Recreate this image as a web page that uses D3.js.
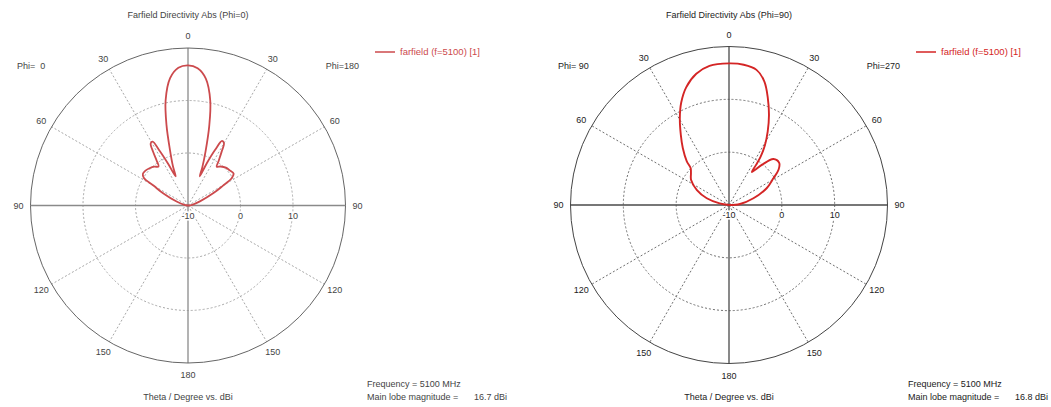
<!DOCTYPE html>
<html>
<head>
<meta charset="utf-8">
<script src="https://cdn.jsdelivr.net/npm/d3@7"></script>
<style>
  body { margin: 0; background: #fff; }
  svg { display: block; font-family: "Liberation Sans", Arial, sans-serif; }
  text { white-space: pre; }
</style>
</head>
<body>
<svg id="chart" width="1051" height="407"></svg>
<script>
// tick labels
const angleTicks = [0, 30, 60, 90, 120, 150, 180];
const spokeAngles = [30, 60, 120, 150];
const dbTicks = [-10, 0, 10];
const dbRings = [0, 10];

// Phi=0 cut (left half) and Phi=180 cut (right half), theta in degrees, gain in dBi
const phi0Theta = [0, 4, 8, 12, 15, 18, 21, 23, 25.5, 27.5, 29, 31, 33, 35, 37, 41, 46, 51, 55, 58, 60, 64, 71, 80, 90];
const phi0Gain  = [16.7, 16.3, 14.5, 10.5, 5.8, 1.1, -2, -4, -1.2, 1.8, 3.9, 3.8, 2.2, 0.4, -0.7, -0.2, 0.2, 0.5, 0.5, -0.1, -2.4, -4.8, -7.7, -9.3, -10.5];
const phi180Theta = [0, 4, 8, 12, 15, 18, 20.5, 22, 24, 26, 27.8, 30, 32, 34.5, 36.5, 40, 45, 50, 55, 58, 60.5, 64, 71, 80, 90];
const phi180Gain  = [16.7, 16.2, 14.4, 10.4, 5.6, 0.8, -2.2, -4, -1.2, 1.8, 3.9, 3.7, 2.1, 0.3, -0.8, -0.3, 0.2, 0.4, 0.6, -0.2, -2.4, -4.6, -7.6, -9.2, -10.5];

// Phi=90 cut (left half) and Phi=270 cut (right half)
const phi90Theta = [0, 8, 14, 20, 25, 29.5, 34.5, 39, 44, 46, 50, 56.5, 65, 73, 80, 90];
const phi90Gain  = [16.8, 16.6, 15.6, 13.7, 11.4, 8.9, 6.1, 3.9, 1.5, 0.1, -0.6, -1.4, -3.3, -5.6, -8.2, -10.3];
const phi270Theta = [0, 6, 11.5, 16, 20, 24, 27.8, 31, 33.2, 34, 34.6, 39.3, 44, 50, 54.6, 59, 66, 74.6, 84.8, 90];
const phi270Gain  = [16.8, 16.7, 16.1, 14.3, 11.5, 8.6, 5.7, 3.2, 0.9, -0.9, -2.4, -0.2, 2.1, 2.4, 1.5, -0.2, -2.2, -5.2, -7.9, -10.3];

const charts = [
  {
    cx: 188, cy: 205.5, R: 157.5,
    title: "Farfield Directivity Abs (Phi=0)",
    leftLabel: "Phi=  0", rightLabel: "Phi=180",
    leftTheta: phi0Theta, leftGain: phi0Gain,
    rightTheta: phi180Theta, rightGain: phi180Gain,
    mainLobe: "16.7 dBi",
    curve: "#cc4a4d", curveWidth: 1.8,
    circle: "#666", axis: "#8a8a8a", grid: "#a8a8a8", text: "#444"
  },
  {
    cx: 729, cy: 205, R: 158.5,
    title: "Farfield Directivity Abs (Phi=90)",
    leftLabel: "Phi= 90", rightLabel: "Phi=270",
    leftTheta: phi90Theta, leftGain: phi90Gain,
    rightTheta: phi270Theta, rightGain: phi270Gain,
    mainLobe: "16.8 dBi",
    curve: "#d42525", curveWidth: 1.9,
    circle: "#444", axis: "#4a4a4a", grid: "#707070", text: "#222"
  }
];

const svg = d3.select("#chart");
const rad = d => d * Math.PI / 180;

charts.forEach(c => {
  const g = svg.append("g").attr("transform", `translate(${c.cx},${c.cy})`);
  const r = d3.scaleLinear().domain([-10, 20]).range([0, c.R]).clamp(true);
  const labelR = c.R + 12;

  // dotted rings
  g.selectAll(".ring").data(dbRings).enter().append("circle")
    .attr("r", d => r(d))
    .attr("fill", "none")
    .attr("stroke", c.grid)
    .attr("stroke-width", 1)
    .attr("stroke-dasharray", "2,2");

  // dotted spokes on both sides
  spokeAngles.forEach(a => {
    [-1, 1].forEach(s => {
      g.append("line")
        .attr("x1", 0).attr("y1", 0)
        .attr("x2", s * c.R * Math.sin(rad(a)))
        .attr("y2", -c.R * Math.cos(rad(a)))
        .attr("stroke", c.grid)
        .attr("stroke-dasharray", "2,2");
    });
  });

  // solid axes
  g.append("line").attr("x1", 0).attr("x2", 0).attr("y1", -c.R).attr("y2", c.R)
    .attr("stroke", c.axis).attr("stroke-width", 1.3);
  g.append("line").attr("x1", -c.R).attr("x2", c.R).attr("y1", 0).attr("y2", 0)
    .attr("stroke", c.axis).attr("stroke-width", 1.3);

  // outer circle
  g.append("circle").attr("r", c.R).attr("fill", "none")
    .attr("stroke", c.circle).attr("stroke-width", 1);

  // pattern
  const pts = [];
  for (let i = c.leftTheta.length - 1; i >= 0; i--) pts.push({ a: -rad(c.leftTheta[i]), v: c.leftGain[i] });
  for (let i = 1; i < c.rightTheta.length; i++) pts.push({ a: rad(c.rightTheta[i]), v: c.rightGain[i] });

  const line = d3.lineRadial()
    .angle(d => d.a)
    .radius(d => r(d.v))
    .curve(d3.curveCatmullRom.alpha(0.5));

  g.append("path")
    .attr("d", line(pts))
    .attr("fill", "none")
    .attr("stroke", c.curve)
    .attr("stroke-width", c.curveWidth)
    .attr("stroke-linejoin", "round");

  // dB labels
  g.selectAll(".db").data(dbTicks).enter().append("text")
    .attr("x", d => r(d))
    .attr("y", 10)
    .attr("dy", "0.35em")
    .attr("text-anchor", "middle")
    .attr("font-size", 9)
    .attr("fill", c.text)
    .attr("stroke", "#fff").attr("stroke-width", 3).attr("paint-order", "stroke")
    .text(d => d);

  // angle labels on both sides
  angleTicks.forEach(a => {
    const sides = (a === 0 || a === 180) ? [1] : [-1, 1];
    sides.forEach(s => {
      g.append("text")
        .attr("x", s * labelR * Math.sin(rad(a)))
        .attr("y", -labelR * Math.cos(rad(a)))
        .attr("dy", "0.35em")
        .attr("text-anchor", "middle")
        .attr("font-size", 9)
        .attr("fill", c.text)
        .text(a);
    });
  });

  // titles and side labels
  g.append("text").attr("x", 0).attr("y", 15.3 - c.cy).attr("dy", "0.35em")
    .attr("text-anchor", "middle").attr("font-size", 9).attr("fill", c.text).text(c.title);
  g.append("text").attr("x", -171).attr("y", 65.5 - c.cy).attr("dy", "0.35em")
    .attr("font-size", 9).attr("fill", c.text).text(c.leftLabel);
  g.append("text").attr("x", 171).attr("y", 65.5 - c.cy).attr("dy", "0.35em")
    .attr("text-anchor", "end").attr("font-size", 9).attr("fill", c.text).text(c.rightLabel);
  g.append("text").attr("x", 0).attr("y", 396.7 - c.cy).attr("dy", "0.35em")
    .attr("text-anchor", "middle").attr("font-size", 9).attr("fill", c.text).text("Theta / Degree vs. dBi");

  // legend
  g.append("line").attr("x1", 187).attr("x2", 207).attr("y1", 52 - c.cy).attr("y2", 52 - c.cy)
    .attr("stroke", c.curve).attr("stroke-width", 1.5);
  g.append("text").attr("x", 212).attr("y", 52 - c.cy).attr("dy", "0.35em")
    .attr("font-size", 9.5).attr("fill", c.curve).text("farfield (f=5100) [1]");

  // info block
  g.append("text").attr("x", 179).attr("y", 384 - c.cy).attr("dy", "0.35em")
    .attr("font-size", 9).attr("fill", c.text).text("Frequency = 5100 MHz");
  g.append("text").attr("x", 179).attr("y", 397 - c.cy).attr("dy", "0.35em")
    .attr("font-size", 9).attr("fill", c.text).text("Main lobe magnitude =");
  g.append("text").attr("x", 286).attr("y", 397 - c.cy).attr("dy", "0.35em")
    .attr("font-size", 9).attr("fill", c.text).text(c.mainLobe);
});
</script>
</body>
</html>
